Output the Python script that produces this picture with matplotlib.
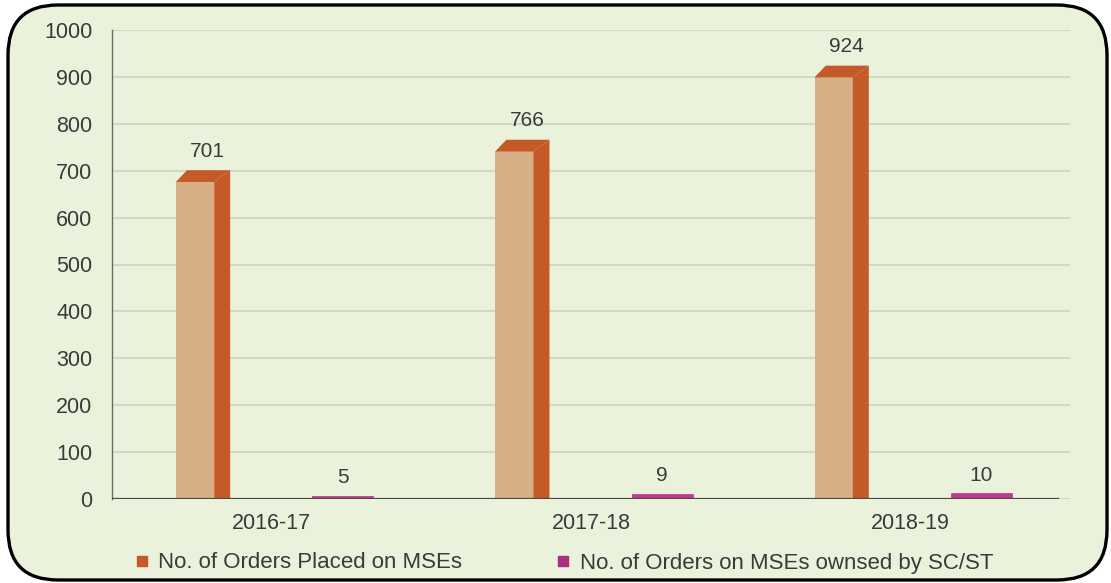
import matplotlib.pyplot as plt
import numpy as np
from matplotlib.patches import Polygon, Rectangle, FancyBboxPatch
from matplotlib.lines import Line2D

years = ['2016-17', '2017-18', '2018-19']
orders_mse = [701, 766, 924]
orders_scst = [5, 9, 10]
series_names = ['No. of Orders Placed on MSEs', 'No. of Orders on MSEs ownsed by SC/ST']

plt.rcParams['font.family'] = ['Liberation Sans', 'DejaVu Sans']
txt_col = '#3a3a3a'
front_col = '#d7ae86'
side_col = '#c45a27'
pink_col = '#c23a8a'
bg_col = '#ebf2dc'

fig = plt.figure(figsize=(11.11, 5.83), dpi=100, facecolor='white')

# rounded frame, kept behind the axes
frame = FancyBboxPatch((0.08, 0.03), 10.99, 5.75, boxstyle='round,pad=0,rounding_size=0.5',
                       transform=fig.dpi_scale_trans, facecolor=bg_col, edgecolor='black',
                       linewidth=2.4, zorder=-10)
fig.patches.append(frame)

ax = fig.add_axes([112 / 1111, 1 - 499 / 583, 958 / 1111, 469 / 583])
ax.set_facecolor('none')
ax.set_zorder(1)
ax.set_xlim(-0.5, 2.5)
ax.set_ylim(0, 1000)

x = np.arange(len(years))
w_front = 0.12
dx = 0.05
dy = 25.0
off_orange = -0.3
off_pink = 0.13
w_pink = 0.185

for i, v in enumerate(orders_mse):
    x0 = x[i] + off_orange
    ax.add_patch(Rectangle((x0, 0), w_front, v - dy, facecolor=front_col, edgecolor='none', zorder=3))
    ax.add_patch(Polygon([(x0 + w_front, 0), (x0 + w_front + dx, 0), (x0 + w_front + dx, v),
                          (x0 + w_front, v - dy)], closed=True, facecolor=side_col, edgecolor='none', zorder=3))
    ax.add_patch(Polygon([(x0, v - dy), (x0 + w_front, v - dy), (x0 + w_front + dx, v), (x0 + dx * 0.7, v)],
                         closed=True, facecolor=side_col, edgecolor='none', zorder=3))
    ax.annotate(str(v), xy=(x0 + w_front / 2 + dx * 0.8, v), xytext=(0, 7), textcoords='offset points',
                ha='center', va='bottom', fontsize=15, color=txt_col)

for i, v in enumerate(orders_scst):
    x0 = x[i] + off_pink
    ax.bar(x0 + w_pink / 2, v, width=w_pink, color=pink_col, edgecolor=pink_col, linewidth=2, zorder=4)
    ax.annotate(str(v), xy=(x0 + w_pink / 2, v), xytext=(0, 7), textcoords='offset points',
                ha='center', va='bottom', fontsize=15, color=txt_col)

ax.set_yticks(np.arange(0, 1001, 100))
ax.set_xticks(x)
ax.set_xticklabels(years)
ax.tick_params(axis='both', length=0, labelsize=15.5, labelcolor=txt_col)
ax.tick_params(axis='y', pad=14)
ax.tick_params(axis='x', pad=10)
ax.grid(axis='y', color='#cfd6c2', linewidth=1.3, zorder=1)
ax.set_axisbelow(True)

for s in ['top', 'right', 'bottom']:
    ax.spines[s].set_visible(False)
ax.spines['left'].set_color('#6a6a6a')
ax.spines['left'].set_linewidth(1.0)
ax.axhline(0, xmin=0, xmax=946 / 958, color='#4a4a4a', linewidth=1.6, zorder=5)

handles = [Line2D([], [], marker='s', linestyle='none', markersize=7, color='#c8572a'),
           Line2D([], [], marker='s', linestyle='none', markersize=7, color='#a8307e')]
fig.legend(handles, series_names, loc='center left', bbox_to_anchor=(136 / 1111, 1 - 563 / 583),
           ncol=2, frameon=False, fontsize=16, labelcolor=txt_col, borderpad=0, borderaxespad=0,
           handlelength=0.5, handletextpad=0.5, columnspacing=4.3)

fig.savefig('out.png', dpi=100, facecolor='white')
